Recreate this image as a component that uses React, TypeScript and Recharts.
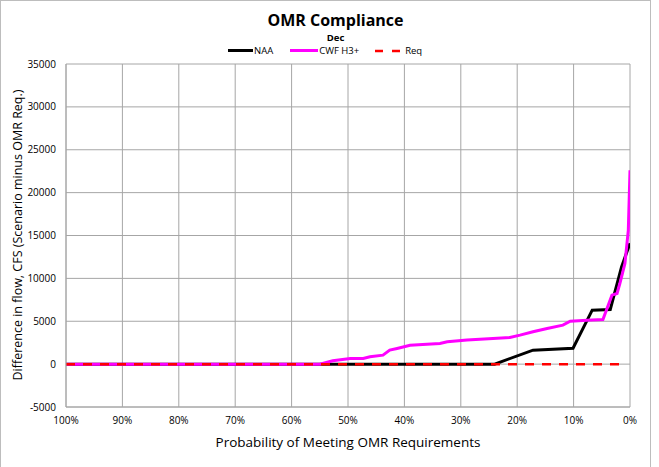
import { CartesianGrid, Line, LineChart, XAxis, YAxis } from "recharts"

// exceedance probability (%) and flow difference (cfs)
const naaProb = [100, 24, 17.2, 10.1, 6.7, 3.5, 1.5, 0]
const naaFlow = [0, 0, 1630, 1860, 6290, 6370, 11340, 14100]

const cwfProb = [100, 55, 52.7, 49.6, 47.3, 46.1, 43.8, 42.6, 41.3, 39, 36, 33.7, 32.4, 28.9, 24.3, 21.3, 19.5, 17.2, 14.7, 11.9, 10.6, 7.6, 4.8, 3.2, 2.3, 1.8, 0.9, 0.3, 0]
const cwfFlow = [0, 0, 390, 660, 660, 850, 1050, 1630, 1830, 2210, 2330, 2410, 2600, 2800, 3000, 3110, 3380, 3770, 4160, 4550, 5010, 5130, 5210, 8040, 8240, 9400, 11740, 15600, 22600]

const reqProb = [100, 0.8]
const reqFlow = [0, 0]

const xTicks = [0, 10, 20, 30, 40, 50, 60, 70, 80, 90, 100]
const yTicks = [-5000, 0, 5000, 10000, 15000, 20000, 25000, 30000, 35000]

const zip = (p: number[], f: number[]) => p.map((prob, i) => ({ prob, flow: f[i] }))

const font = "'Open Sans', sans-serif"

export default function App() {
  return (
    <div style={{ position: "absolute", left: 0, top: 0, width: 659, height: 467, background: "#fff", fontFamily: font }}>
      <div style={{ position: "absolute", left: 0, top: 0, width: 651, height: 470, border: "1px solid #bdbdbd", boxSizing: "border-box" }} />
      <div style={{ position: "absolute", width: 659, top: 9, left: 6, textAlign: "center", fontSize: 16, lineHeight: "22px", fontWeight: 700 }}>OMR Compliance</div>
      <div style={{ position: "absolute", width: 659, top: 31, left: 6, textAlign: "center", fontSize: 9.5, lineHeight: "13px", fontWeight: 700 }}>Dec</div>
      <div style={{ position: "absolute", top: 44, left: 228, fontSize: 9.5, lineHeight: "13px", display: "flex", alignItems: "center" }}>
        <span style={{ display: "inline-block", width: 25, height: 3, background: "#000" }} />
        <span style={{ marginLeft: 1 }}>NAA</span>
        <span style={{ display: "inline-block", width: 28, height: 3, background: "#ff00ff", marginLeft: 17 }} />
        <span style={{ marginLeft: 1 }}>CWF H3+</span>
        <svg width={28} height={4} style={{ marginLeft: 16 }}>
          <line x1={0} y1={2} x2={28} y2={2} stroke="#ff0000" strokeWidth={2.5} strokeDasharray="8 9" />
        </svg>
        <span style={{ marginLeft: 2 }}>Req</span>
      </div>
      <div style={{ position: "absolute", left: 9, top: 235, width: 0, height: 0 }}>
        <div style={{ position: "absolute", transform: "translate(-50%, -50%) rotate(-90deg)", whiteSpace: "nowrap", fontSize: 12.5, left: 8 }}>
          Difference in flow, CFS (Scenario minus OMR Req.)
        </div>
      </div>
      <div style={{ position: "absolute", left: 66, width: 564, top: 433, textAlign: "center", fontSize: 13.5 }}>
        Probability of Meeting OMR Requirements
      </div>
      <LineChart width={659} height={467} margin={{ top: 64, right: 29, bottom: 30, left: 24 }} style={{ position: "absolute", left: 0, top: 0 }}>
        <CartesianGrid stroke="#a6a6a6" strokeWidth={1} />
        <XAxis
          type="number"
          dataKey="prob"
          domain={[0, 100]}
          ticks={xTicks}
          reversed
          allowDataOverflow
          tickFormatter={(v: number) => `${v}%`}
          tickLine={false}
          axisLine={{ stroke: "#a6a6a6" }}
          height={30}
          tick={{ fontSize: 10, fill: "#000", fontFamily: font }}
          tickMargin={4}
        />
        <YAxis
          type="number"
          dataKey="flow"
          domain={[-5000, 35000]}
          ticks={yTicks}
          allowDataOverflow
          tickLine={false}
          axisLine={{ stroke: "#a6a6a6" }}
          width={42}
          tick={{ fontSize: 10, fill: "#000", fontFamily: font }}
          tickMargin={4}
        />
        <Line data={zip(naaProb, naaFlow)} dataKey="flow" stroke="#000" strokeWidth={3} dot={false} isAnimationActive={false} type="linear" />
        <Line data={zip(cwfProb, cwfFlow)} dataKey="flow" stroke="#ff00ff" strokeWidth={3} dot={false} isAnimationActive={false} type="linear" />
        <Line data={zip(reqProb, reqFlow)} dataKey="flow" stroke="#ff0000" strokeWidth={2.5} strokeDasharray="9 8" dot={false} isAnimationActive={false} type="linear" />
      </LineChart>
    </div>
  )
}
